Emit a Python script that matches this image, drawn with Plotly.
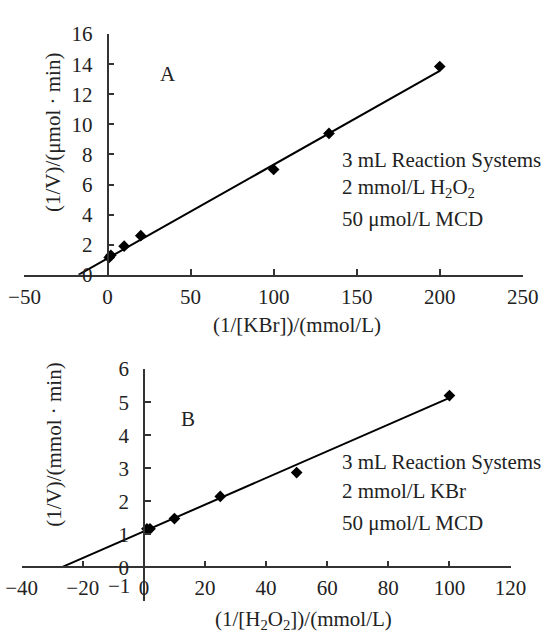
import plotly.graph_objects as go

W, H = 552, 641

# ---- Panel A data ----
a_x = [1, 2, 10, 20, 100, 133.3, 200]
a_y = [1.15, 1.3, 1.9, 2.6, 7.0, 9.4, 13.85]
a_fit_x = [-17.5, 200]
a_fit_y = [0, 13.55]
a_xticks = [-50, 0, 50, 100, 150, 200, 250]
a_yticks = [0, 2, 4, 6, 8, 10, 12, 14, 16]

# ---- Panel B data ----
b_x = [1, 2, 10, 25, 50, 100]
b_y = [1.17, 1.17, 1.48, 2.15, 2.87, 5.2]
b_fit_x = [-27, 100]
b_fit_y = [0, 5.13]
b_xticks = [-40, -20, 0, 20, 40, 60, 80, 100, 120]
b_yticks = [-1, 0, 1, 2, 3, 4, 5, 6]
b_yticktext = ["", "0", "1", "2", "3", "4", "5", "6"]

FONT = "Liberation Serif"
FS = 21
INK = "#222222"


def px(x):
    return x / W


def py(y):
    return 1 - y / H


fig = go.Figure()
line_style = dict(color="black", width=2)
marker_style = dict(symbol="diamond", size=9, color="black")

fig.add_trace(go.Scatter(x=a_fit_x, y=a_fit_y, mode="lines", line=line_style,
                         xaxis="x", yaxis="y", showlegend=False, hoverinfo="skip"))
fig.add_trace(go.Scatter(x=a_x, y=a_y, mode="markers", marker=marker_style,
                         xaxis="x", yaxis="y", showlegend=False))
fig.add_trace(go.Scatter(x=b_fit_x, y=b_fit_y, mode="lines", line=line_style,
                         xaxis="x2", yaxis="y2", showlegend=False, hoverinfo="skip"))
fig.add_trace(go.Scatter(x=b_x, y=b_y, mode="markers", marker=marker_style,
                         xaxis="x2", yaxis="y2", showlegend=False))

axis_common = dict(showgrid=False, zeroline=False, showline=True, linecolor="#333333",
                   linewidth=1.6, ticks="inside", ticklen=6, tickwidth=1.5,
                   tickcolor="#333333", tickfont=dict(family=FONT, size=FS, color=INK),
                   ticklabeloverflow="allow", fixedrange=True)

fig.update_layout(
    width=W, height=H,
    margin=dict(l=0, r=0, t=0, b=0),
    paper_bgcolor="white", plot_bgcolor="rgba(0,0,0,0)",
    font=dict(family=FONT, size=FS, color=INK),
    xaxis=dict(domain=[px(9), px(538)], range=[-50, 250], anchor="y",
               tickmode="array", tickvals=a_xticks, ticklabelstandoff=2, **axis_common),
    yaxis=dict(domain=[py(273), py(23)], range=[0, 16], anchor="free",
               position=px(97.2), tickmode="array", tickvals=a_yticks,
               ticklabelstandoff=10, **axis_common),
    xaxis2=dict(domain=[px(6), px(525)], range=[-40, 120], anchor="free",
                position=py(577), tickmode="array", tickvals=b_xticks,
                ticklabelstandoff=2, **axis_common),
    yaxis2=dict(domain=[py(611.4), py(371)], range=[-1, 6], anchor="free",
                position=px(135.8), tickmode="array", tickvals=b_yticks,
                ticktext=b_yticktext, ticklabelstandoff=10, **axis_common),
)


def ann(text, x, y, xanchor="center", angle=0, size=FS):
    fig.add_annotation(text=text, x=px(x), y=py(y), xref="paper", yref="paper",
                       xanchor=xanchor, yanchor="middle", showarrow=False,
                       textangle=angle, borderpad=0,
                       font=dict(family=FONT, size=size, color=INK))


# axis titles
ann("(1/V)/(μmol · min)", 40, 125, angle=-90)
ann("(1/V)/(mmol · min)", 40, 450, angle=-90)
ann("(1/[KBr])/(mmol/L)", 298, 325)
ann("(1/[H<sub>2</sub>O<sub>2</sub>])/(mmol/L)", 305, 632)

# panel labels
ann("A", 161, 64)
ann("B", 183, 423)

# condition notes
ann("3 mL Reaction Systems", 345, 154, xanchor="left")
ann("2 mmol/L H<sub>2</sub>O<sub>2</sub>", 345, 183, xanchor="left")
ann("50 μmol/L MCD", 345, 215, xanchor="left")
ann("3 mL Reaction Systems", 345, 467, xanchor="left")
ann("2 mmol/L KBr", 345, 498, xanchor="left")
ann("50 μmol/L MCD", 345, 531, xanchor="left")

# stray label near B origin
ann("−1", 109, 596)

fig.write_html("out.html")
